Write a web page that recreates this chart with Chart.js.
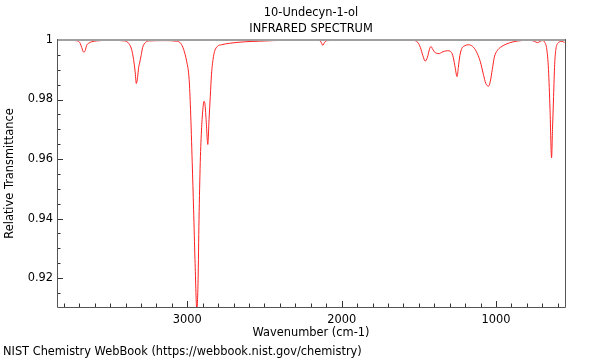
<!DOCTYPE html>
<html><head><meta charset="utf-8">
<script src="https://cdn.jsdelivr.net/npm/chart.js@4.4.1/dist/chart.umd.min.js"></script>
<style>html,body{margin:0;padding:0;background:#fff}#wrap{width:600px;height:360px;position:relative}</style>
</head><body><div id="wrap"><canvas id="c" width="600" height="360"></canvas></div>
<script>
const titleLines = ['10-Undecyn-1-ol', 'INFRARED SPECTRUM'];
const xAxisTitle = 'Wavenumber (cm-1)';
const yAxisTitle = 'Relative Transmittance';
const footerText = 'NIST Chemistry WebBook (https://webbook.nist.gov/chemistry)';

const wavenumbers = [3844,3762,3710,3694,3684,3671,3661,3652,3639,3619,3587,3503,3406,3380,3361,3348,3338,3330,3322,3315,3309,3299,3289,3270,3244,3147,3069,3043,3024,3004,2988,2979,2968,2959,2950,2938,2930,2924,2916,2907,2899,2892,2886,2878,2867,2859,2851,2843,2833,2823,2804,2778,2726,2629,2532,2357,2157,2137,2122,2111,2092,1950,1626,1542,1507,1490,1474,1459,1444,1431,1421,1410,1393,1380,1367,1351,1335,1315,1296,1280,1267,1252,1244,1234,1221,1205,1179,1153,1128,1102,1082,1066,1048,1037,1024,1011,991,972,935,888,836,785,752,731,713,698,684,671,660,650,640,634,627,620,612,600,591,578,565,556];
const transmittance = [0.9999,0.9999,0.9997,0.9989,0.9975,0.9959,0.9965,0.9982,0.9989,0.9994,0.9997,0.9999,0.9997,0.9989,0.9969,0.9935,0.9895,0.9854,0.9874,0.9908,0.9922,0.9948,0.9975,0.9992,0.9997,0.9998,0.9996,0.9989,0.9969,0.9928,0.9868,0.9767,0.9588,0.9430,0.9262,0.9093,0.9194,0.9396,0.9588,0.9706,0.9767,0.9794,0.9787,0.9733,0.9649,0.9733,0.9810,0.9885,0.9935,0.9962,0.9979,0.9984,0.9989,0.9994,0.9996,0.9999,0.9999,0.9996,0.9982,0.9992,0.9998,0.9999,1.0000,0.9999,0.9992,0.9975,0.9948,0.9929,0.9942,0.9969,0.9978,0.9969,0.9957,0.9955,0.9954,0.9959,0.9962,0.9964,0.9962,0.9948,0.9915,0.9877,0.9908,0.9948,0.9972,0.9980,0.9984,0.9979,0.9962,0.9928,0.9885,0.9854,0.9845,0.9861,0.9901,0.9942,0.9965,0.9975,0.9986,0.9994,0.9998,0.9999,0.9996,0.9991,0.9996,0.9998,0.9992,0.9969,0.9901,0.9767,0.9604,0.9699,0.9810,0.9918,0.9969,0.9989,0.9993,0.9996,0.9994,0.9992];

const xTickValues = [3000, 2000, 1000];
const xTickLabels = ['3000', '2000', '1000'];
const yTickValues = [1, 0.98, 0.96, 0.94, 0.92];
const yTickLabels = ['1', '0.98', '0.96', '0.94', '0.92'];
const xMinorStep = 100;
const yMinorStep = 0.005;
const xRange = [553, 3844];
const yRange = [0.9103, 1.0];

const FONT = 'DejaVu Sans';
const FSIZE = 11.4;

const framePlugin = {
  id: 'frame',
  afterDraw(chart) {
    const ctx = chart.ctx;
    const a = chart.chartArea;
    const xs = chart.scales.x, ys = chart.scales.y;
    ctx.save();
    ctx.strokeStyle = '#333';
    ctx.lineWidth = 1;
    ctx.beginPath();
    const xStart = Math.ceil(xRange[0] / xMinorStep) * xMinorStep;
    for (let v = xStart; v <= xRange[1]; v += xMinorStep) {
      const px = Math.round(xs.getPixelForValue(v)) + 0.5;
      const len = xTickValues.includes(v) ? 6 : 3.5;
      ctx.moveTo(px, a.bottom); ctx.lineTo(px, a.bottom - len);
    }
    const yStartN = Math.ceil(yRange[0] / yMinorStep);
    const yEndN = Math.floor(yRange[1] / yMinorStep + 1e-9);
    for (let n = yStartN; n <= yEndN; n++) {
      const v = +(n * yMinorStep).toFixed(4);
      const py = Math.round(ys.getPixelForValue(v)) + 0.5;
      const len = yTickValues.some(t => Math.abs(t - v) < 1e-9) ? 6 : 3.5;
      ctx.moveTo(a.left, py); ctx.lineTo(a.left + len, py);
    }
    ctx.stroke();
    ctx.lineWidth = 2;
    ctx.strokeStyle = '#a0a0a0';
    ctx.beginPath(); ctx.moveTo(a.left, a.top); ctx.lineTo(a.right, a.top); ctx.stroke();
    ctx.lineWidth = 1;
    ctx.strokeStyle = '#555';
    ctx.beginPath();
    ctx.moveTo(a.left + 0.5, a.top - 1); ctx.lineTo(a.left + 0.5, a.bottom + 0.5);
    ctx.lineTo(a.right + 0.5, a.bottom + 0.5);
    ctx.lineTo(a.right + 0.5, a.top - 1);
    ctx.stroke();
    ctx.fillStyle = '#000';
    ctx.font = FSIZE + 'px "' + FONT + '"';
    ctx.textAlign = 'center';
    ctx.textBaseline = 'middle';
    const cx = (a.left + a.right) / 2;
    ctx.fillText(titleLines[0], cx, 13);
    ctx.fillText(titleLines[1], cx, 29);
    ctx.textAlign = 'left';
    ctx.fillText(footerText, 3, 352);
    ctx.restore();
  }
};

new Chart(document.getElementById('c'), {
  type: 'line',
  data: {
    datasets: [{
      data: wavenumbers.map((w, i) => ({ x: w, y: transmittance[i] })),
      borderColor: '#ff2020',
      borderWidth: 1,
      pointRadius: 0,
      cubicInterpolationMode: 'monotone',
      fill: false
    }]
  },
  options: {
    responsive: false,
    animation: false,
    devicePixelRatio: 1,
    layout: { padding: { top: 40, right: 35, left: 0, bottom: 0 } },
    plugins: { legend: { display: false }, tooltip: { enabled: false }, title: { display: false } },
    scales: {
      x: {
        type: 'linear', reverse: true, min: xRange[0], max: xRange[1], position: 'bottom',
        afterBuildTicks: s => { s.ticks = xTickValues.map(v => ({ value: v })); },
        afterFit: s => { s.height = 53; },
        ticks: {
          callback: v => xTickLabels[xTickValues.indexOf(v)],
          autoSkip: false, maxRotation: 0, color: '#000', padding: 6,
          font: { family: FONT, size: FSIZE }
        },
        grid: { display: false, drawTicks: false },
        border: { display: false },
        title: { display: true, text: xAxisTitle, color: '#000', font: { family: FONT, size: FSIZE }, padding: { top: 0, bottom: 20 } }
      },
      y: {
        type: 'linear', min: yRange[0], max: yRange[1],
        afterBuildTicks: s => { s.ticks = yTickValues.map(v => ({ value: v })); },
        afterFit: s => { s.width = 57; },
        ticks: {
          callback: v => yTickLabels[yTickValues.findIndex(t => Math.abs(t - v) < 1e-9)],
          autoSkip: false, color: '#000', padding: 4,
          font: { family: FONT, size: FSIZE }
        },
        grid: { display: false, drawTicks: false },
        border: { display: false },
        title: { display: true, text: yAxisTitle, color: '#000', font: { family: FONT, size: FSIZE }, padding: { top: 3, bottom: 0 } }
      }
    }
  },
  plugins: [framePlugin]
});
</script></body></html>
